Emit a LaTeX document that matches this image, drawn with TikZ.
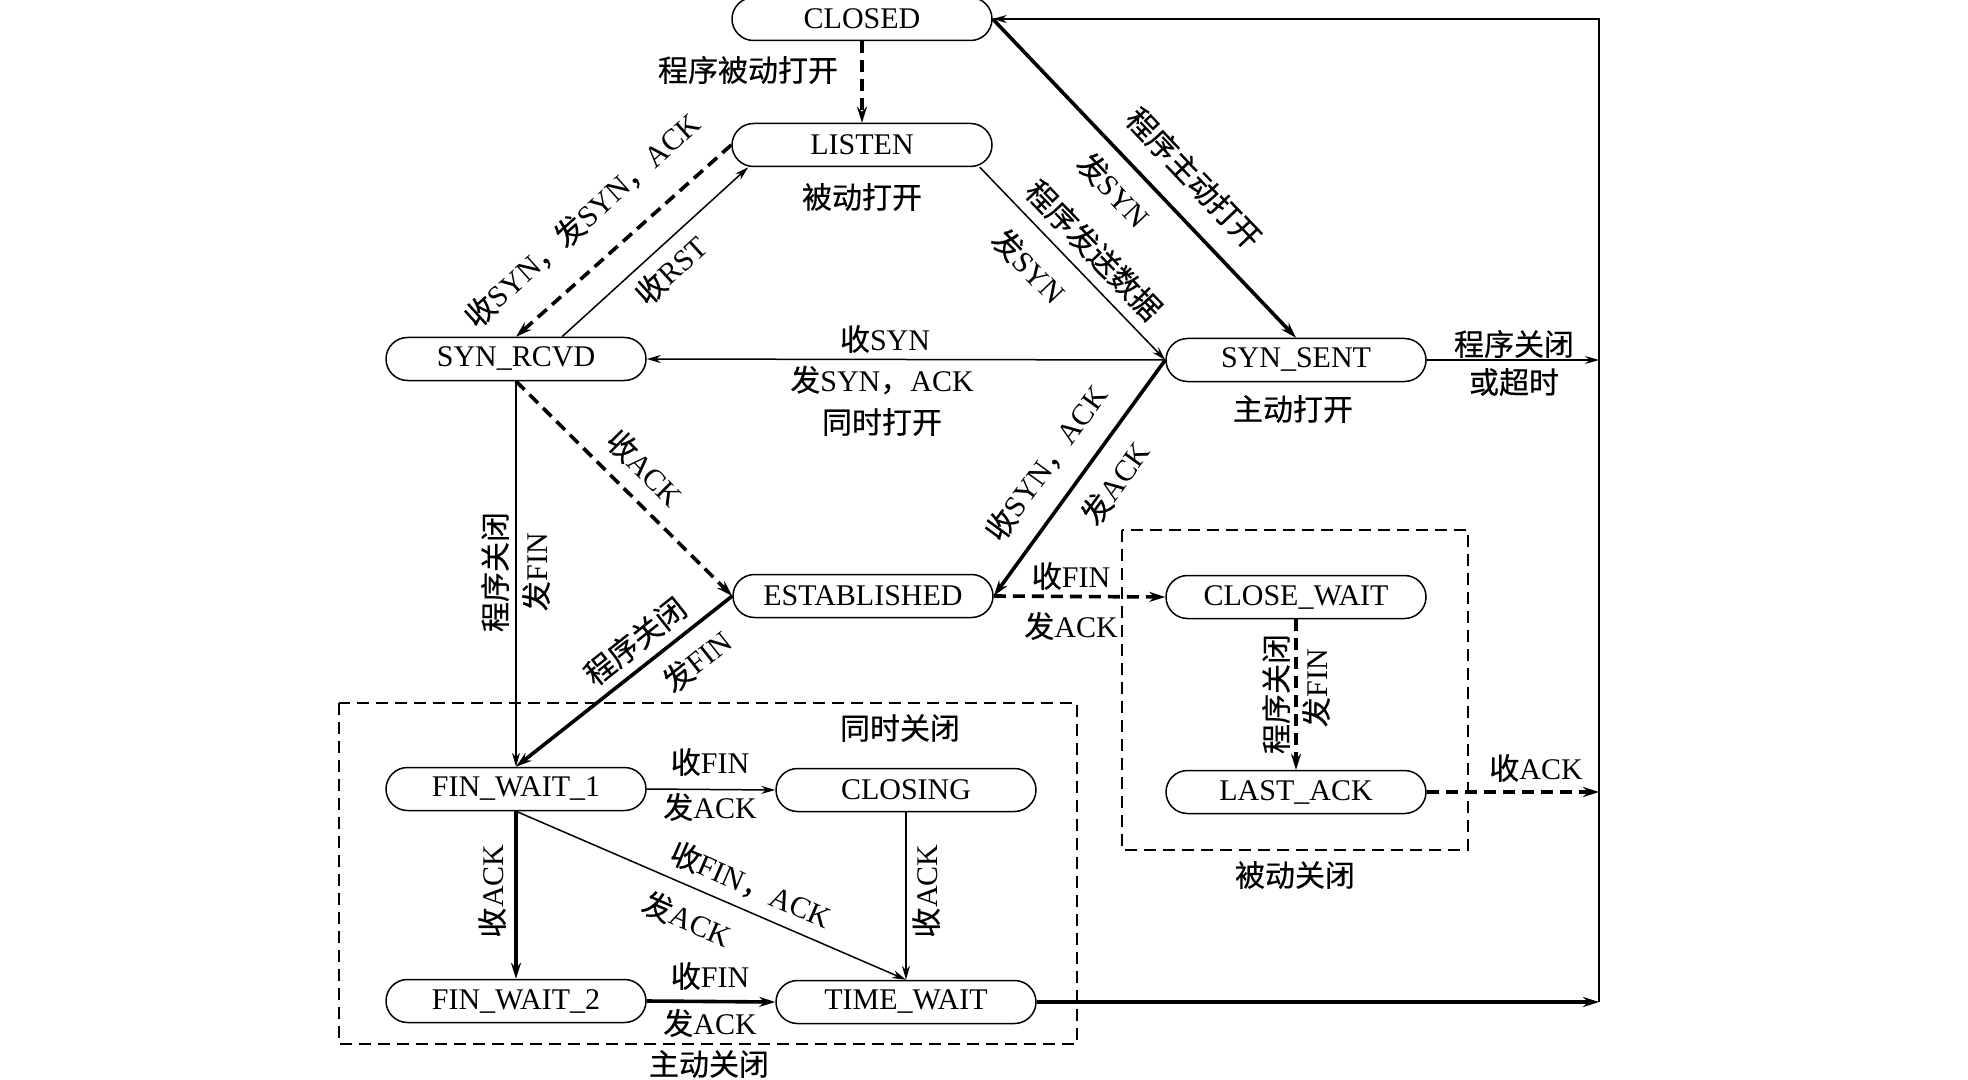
\documentclass[tikz,border=0pt]{standalone}
\usepackage{fontspec}
\setmainfont{Liberation Serif}
\newfontfamily\zhfont[FakeBold=0.45]{Noto Sans CJK SC}
\usetikzlibrary{arrows.meta}

% Han characters and full-width punctuation switch to the CJK face automatically
\XeTeXinterchartokenstate=1
\newXeTeXintercharclass\zhclass
\newcount\zhcode
\zhcode="4E00
\loop
  \XeTeXcharclass\zhcode=\zhclass
  \ifnum\zhcode<"9FFF \advance\zhcode by 1
\repeat
\XeTeXcharclass"FF0C=\zhclass
\XeTeXcharclass"3001=\zhclass
\XeTeXinterchartoks 0 \zhclass={\zhfont}
\XeTeXinterchartoks 4095 \zhclass={\zhfont}
\XeTeXinterchartoks \zhclass 0={\rmfamily}

\tikzset{
  state/.style={draw, line width=0.75pt, rounded corners=10.75pt,
    minimum width=130pt, minimum height=21.5pt, inner sep=0pt},
  lbl/.style={inner sep=0pt},
  thinarrow/.style={line width=0.75pt, -{Stealth[length=7pt,width=4pt]}},
  thickarrow/.style={line width=1.8pt, -{Stealth[length=8pt,width=5pt]}},
  dasharrow/.style={thickarrow, dash pattern=on 6pt off 3.5pt},
  groupbox/.style={line width=0.7pt, dash pattern=on 6pt off 3.5pt},
}

\begin{document}
\begin{tikzpicture}[x=0.5pt, y=-0.5pt, font=\fontsize{15}{18}\selectfont]
\useasboundingbox[fill=white] (0,0) rectangle (1968,1080);

% group frames
\draw[groupbox] (339,703) rectangle (1077,1044);
\draw[groupbox] (1122,530) rectangle (1468,850);

% states
\node[state] (closed)    at (862,19)   {CLOSED};
\node[state] (listen)    at (862,145)  {LISTEN};
\node[state] (synrcvd)   at (516,359)  {SYN\_RCVD};
\node[state] (synsent)   at (1296,360) {SYN\_SENT};
\node[state] (estab)     at (863,596)  {ESTABLISHED};
\node[state] (closewait) at (1296,597) {CLOSE\_WAIT};
\node[state] (lastack)   at (1296,792) {LAST\_ACK};
\node[state] (fw1)       at (516,789)  {FIN\_WAIT\_1};
\node[state] (closing)   at (906,790)  {CLOSING};
\node[state] (fw2)       at (516,1001) {FIN\_WAIT\_2};
\node[state] (timewait)  at (906,1002) {TIME\_WAIT};

% return rail on the right
\coordinate (railtop) at (1599,19);
\coordinate (railsyn) at (1599,360);
\coordinate (railack) at (1599,792);
\coordinate (railtw)  at (1599,1002);

% transitions
\draw[dasharrow] (closed) -- (listen);
\draw[thickarrow] (closed.east) -- (synsent.north);
\draw[thinarrow] ([xshift=-6.5pt]listen.south east) -- (synsent.west);
\draw[dasharrow] (listen.west) -- (synrcvd.north);
\draw[thinarrow] ([xshift=23pt]synrcvd.north) -- ([xshift=8.5pt]listen.south west);
\draw[thinarrow] (synsent.west) -- (synrcvd.east);
\draw[thinarrow] (synsent.east) -- (railsyn);
\draw[thickarrow] (synsent.west) -- (estab.east);
\draw[dasharrow] (synrcvd.south) -- (estab.west);
\draw[thinarrow] (synrcvd.south) -- (fw1.north);
\draw[thickarrow] (estab.west) -- (fw1.north);
\draw[dasharrow] (estab.east) -- (closewait.west);
\draw[dasharrow] (closewait.south) -- (lastack.north);
\draw[dasharrow] (lastack.east) -- (railack);
\draw[thinarrow] (fw1.east) -- (closing.west);
\draw[thickarrow] (fw1.south) -- (fw2.north);
\draw[thinarrow] (fw1.south) -- (timewait.north);
\draw[thinarrow] (closing.south) -- (timewait.north);
\draw[thickarrow] (fw2.east) -- (timewait.west);
\draw[thickarrow] (timewait.east) -- (railtw);
\draw[thinarrow] (railtw) -- (railtop) -- (closed.east);

% transition labels
\node[lbl] (t1)  at (748,70)  {程序被动打开};
\node[lbl] (t2)  at (862,197) {被动打开};
\node[lbl, rotate=42] (t3) at (582,220) {收SYN，发SYN，ACK};
\node[lbl, rotate=42.5] (t4) at (671,270) {收RST};
\node[lbl] (t5)  at (885,339) {收SYN};
\node[lbl] (t6)  at (882,380) {发SYN，ACK};
\node[lbl] (t7)  at (882,422) {同时打开};
\node[lbl, rotate=-46] (t8)  at (1094,250) {程序发送数据};
\node[lbl, rotate=-46] (t9)  at (1029,266) {发SYN};
\node[lbl, rotate=-46.5] (t10) at (1194,178) {程序主动打开};
\node[lbl, rotate=-46.5] (t11) at (1114,190) {发SYN};
\node[lbl] (t12) at (1293,409) {主动打开};
\node[lbl] (t13) at (1514,344) {程序关闭};
\node[lbl] (t14) at (1514,382) {或超时};
\node[lbl, rotate=54] (t15) at (1046,463) {收SYN，ACK};
\node[lbl, rotate=54] (t16) at (1115,483) {发ACK};
\node[lbl, rotate=-45] (t17) at (645,468) {收ACK};
\node[lbl, rotate=90] (t18) at (495,572) {程序关闭};
\node[lbl, rotate=90] (t19) at (536,572) {发FIN};
\node[lbl, rotate=38.4] (t20) at (635,641) {程序关闭};
\node[lbl, rotate=38.4] (t21) at (697,661) {发FIN};
\node[lbl] (t22) at (1071,576) {收FIN};
\node[lbl] (t23) at (1071,626) {发ACK};
\node[lbl, rotate=90] (t24) at (1276,694) {程序关闭};
\node[lbl, rotate=90] (t25) at (1316,688) {发FIN};
\node[lbl] (t26) at (1536,768) {收ACK};
\node[lbl] (t27) at (710,762) {收FIN};
\node[lbl] (t28) at (710,807) {发ACK};
\node[lbl, rotate=90] (t29) at (492,891) {收ACK};
\node[lbl, rotate=-23.4] (t30) at (751,885) {收FIN，ACK};
\node[lbl, rotate=-23.4] (t31) at (687,919) {发ACK};
\node[lbl, rotate=90] (t32) at (926,891) {收ACK};
\node[lbl] (t33) at (710,976)  {收FIN};
\node[lbl] (t34) at (710,1023) {发ACK};

% group captions
\node[lbl] (g1) at (900,728)  {同时关闭};
\node[lbl] (g2) at (709,1064) {主动关闭};
\node[lbl] (g3) at (1295,875) {被动关闭};
\end{tikzpicture}
\end{document}
